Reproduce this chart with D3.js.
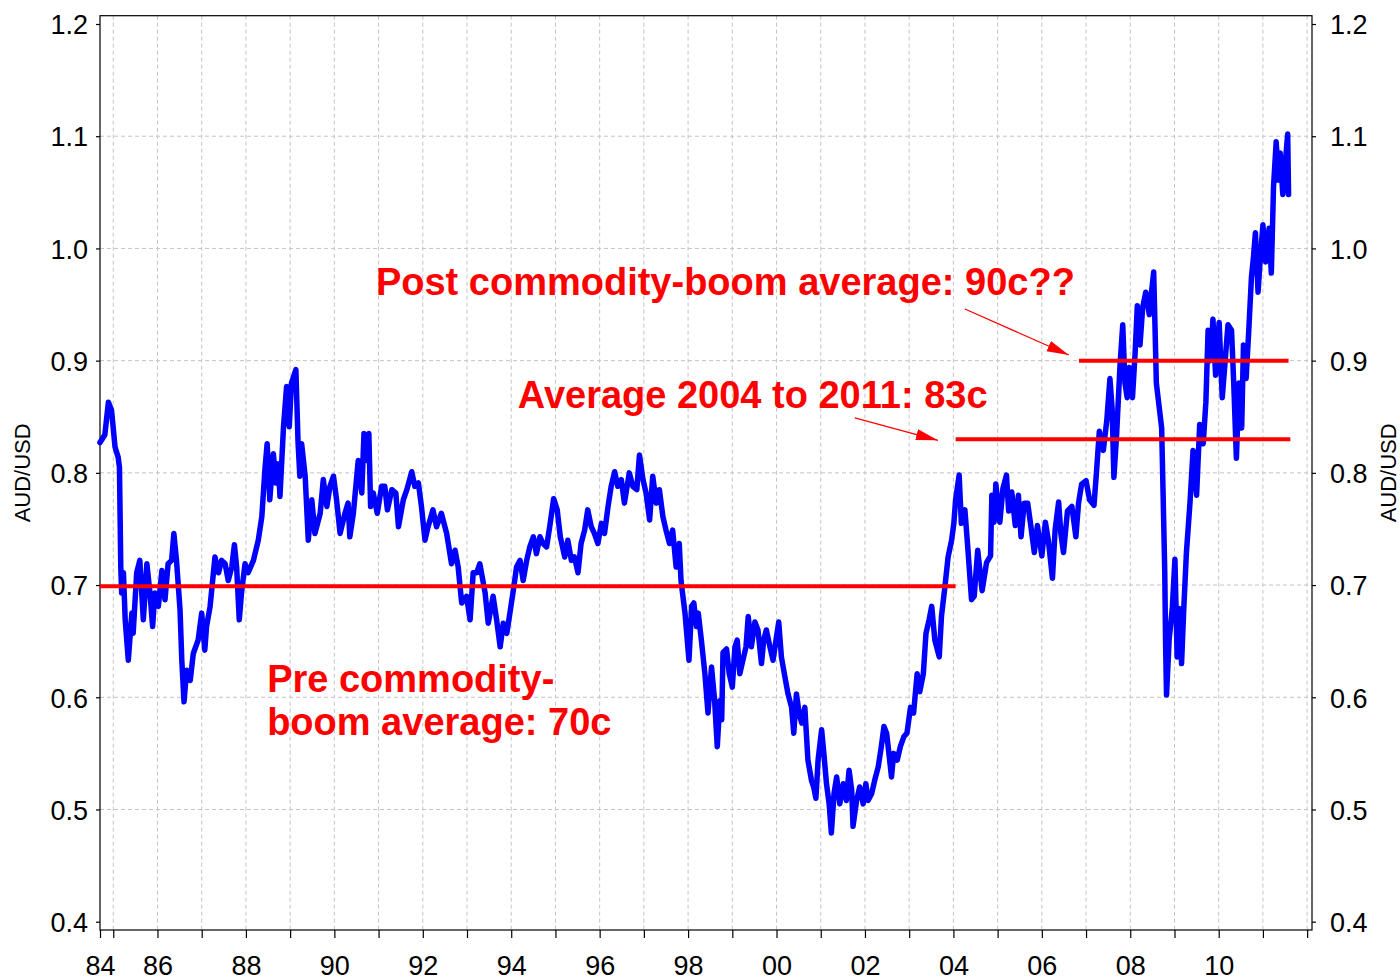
<!DOCTYPE html>
<html>
<head>
<meta charset="utf-8">
<script src="https://cdn.jsdelivr.net/npm/d3@7"></script>
<style>
  body { margin: 0; background: #fff; }
  text { font-family: "Liberation Sans", Arial, sans-serif; }
</style>
</head>
<body>
<div id="chart-area"></div>
<script>
// AUD/USD, decimal year vs rate
const audYears = [
  1984.70, 1984.81, 1984.89, 1984.96, 1985.04, 1985.11, 1985.14, 1985.17, 1985.19, 1985.23,
  1985.27, 1985.34, 1985.42, 1985.45, 1985.53, 1985.60, 1985.68, 1985.76, 1985.83, 1985.89,
  1985.94, 1986.02, 1986.10, 1986.17, 1986.24, 1986.32, 1986.37, 1986.43, 1986.51, 1986.55,
  1986.60, 1986.66, 1986.74, 1986.81, 1986.92, 1987.00, 1987.07, 1987.11, 1987.19, 1987.30,
  1987.38, 1987.45, 1987.53, 1987.60, 1987.68, 1987.74, 1987.79, 1987.85, 1987.90, 1987.98,
  1988.05, 1988.17, 1988.28, 1988.36, 1988.43, 1988.48, 1988.54, 1988.62, 1988.68, 1988.73,
  1988.77, 1988.85, 1988.92, 1988.98, 1989.03, 1989.13, 1989.18, 1989.22, 1989.26, 1989.34,
  1989.41, 1989.49, 1989.56, 1989.68, 1989.75, 1989.83, 1989.90, 1989.98, 1990.05, 1990.13,
  1990.24, 1990.31, 1990.35, 1990.43, 1990.54, 1990.62, 1990.67, 1990.73, 1990.78, 1990.82,
  1990.88, 1990.97, 1991.07, 1991.14, 1991.20, 1991.30, 1991.39, 1991.45, 1991.56, 1991.64,
  1991.75, 1991.82, 1991.90, 1991.97, 1992.05, 1992.12, 1992.23, 1992.31, 1992.42, 1992.54,
  1992.65, 1992.73, 1992.80, 1992.88, 1992.99, 1993.07, 1993.14, 1993.22, 1993.29, 1993.41,
  1993.48, 1993.59, 1993.67, 1993.75, 1993.82, 1993.90, 1993.97, 1994.05, 1994.12, 1994.20,
  1994.27, 1994.35, 1994.42, 1994.50, 1994.57, 1994.65, 1994.72, 1994.80, 1994.87, 1994.96,
  1995.04, 1995.11, 1995.21, 1995.28, 1995.36, 1995.43, 1995.51, 1995.58, 1995.66, 1995.73,
  1995.81, 1995.88, 1995.96, 1996.04, 1996.11, 1996.19, 1996.26, 1996.34, 1996.41, 1996.49,
  1996.56, 1996.67, 1996.75, 1996.84, 1996.90, 1996.98, 1997.05, 1997.13, 1997.20, 1997.28,
  1997.35, 1997.43, 1997.50, 1997.58, 1997.65, 1997.73, 1997.80, 1997.84, 1997.93, 1998.02,
  1998.08, 1998.13, 1998.19, 1998.23, 1998.30, 1998.38, 1998.45, 1998.53, 1998.60, 1998.66,
  1998.72, 1998.76, 1998.79, 1998.87, 1998.93, 1999.00, 1999.06, 1999.11, 1999.17, 1999.24,
  1999.31, 1999.36, 1999.43, 1999.51, 1999.58, 1999.66, 1999.71, 1999.77, 1999.85, 1999.92,
  2000.00, 2000.05, 2000.11, 2000.19, 2000.26, 2000.34, 2000.39, 2000.45, 2000.51, 2000.57,
  2000.64, 2000.71, 2000.79, 2000.84, 2000.89, 2000.94, 2001.02, 2001.07, 2001.13, 2001.19,
  2001.24, 2001.30, 2001.36, 2001.43, 2001.51, 2001.58, 2001.64, 2001.70, 2001.73, 2001.81,
  2001.88, 2001.96, 2002.02, 2002.07, 2002.15, 2002.22, 2002.30, 2002.37, 2002.43, 2002.49,
  2002.55, 2002.60, 2002.65, 2002.73, 2002.80, 2002.88, 2002.95, 2003.03, 2003.10, 2003.18,
  2003.24, 2003.32, 2003.38, 2003.45, 2003.51, 2003.58, 2003.68, 2003.73, 2003.81, 2003.88,
  2003.96, 2004.01, 2004.05, 2004.13, 2004.18, 2004.26, 2004.33, 2004.41, 2004.47, 2004.55,
  2004.65, 2004.75, 2004.84, 2004.87, 2004.92, 2004.96, 2005.05, 2005.12, 2005.20, 2005.25,
  2005.32, 2005.40, 2005.47, 2005.53, 2005.60, 2005.68, 2005.75, 2005.83, 2005.90, 2006.00,
  2006.08, 2006.15, 2006.24, 2006.30, 2006.38, 2006.43, 2006.49, 2006.58, 2006.68, 2006.77,
  2006.83, 2006.90, 2007.00, 2007.08, 2007.18, 2007.24, 2007.30, 2007.39, 2007.47, 2007.54,
  2007.59, 2007.63, 2007.69, 2007.77, 2007.83, 2007.88, 2007.93, 2007.98, 2008.05, 2008.11,
  2008.16, 2008.22, 2008.28, 2008.35, 2008.43, 2008.48, 2008.53, 2008.59, 2008.65, 2008.71,
  2008.74, 2008.78, 2008.80, 2008.82, 2008.88, 2008.95, 2009.01, 2009.06, 2009.12, 2009.16,
  2009.21, 2009.27, 2009.35, 2009.42, 2009.50, 2009.57, 2009.65, 2009.71, 2009.76, 2009.81,
  2009.87, 2009.93, 2010.01, 2010.08, 2010.14, 2010.21, 2010.29, 2010.34, 2010.40, 2010.46,
  2010.52, 2010.56, 2010.62, 2010.68, 2010.74, 2010.79, 2010.83, 2010.89, 2010.94, 2011.00,
  2011.06, 2011.14, 2011.19, 2011.24, 2011.30, 2011.35, 2011.39, 2011.45, 2011.51, 2011.56,
  2011.58
];
const audValues = [
  0.827, 0.834, 0.863, 0.856, 0.823, 0.814, 0.805, 0.716, 0.693, 0.711,
  0.669, 0.633, 0.675, 0.657, 0.711, 0.722, 0.669, 0.719, 0.693, 0.663,
  0.693, 0.681, 0.713, 0.687, 0.719, 0.722, 0.746, 0.722, 0.678, 0.633,
  0.596, 0.624, 0.615, 0.639, 0.651, 0.675, 0.642, 0.663, 0.681, 0.725,
  0.711, 0.722, 0.719, 0.704, 0.716, 0.736, 0.716, 0.669, 0.693, 0.719,
  0.711, 0.722, 0.740, 0.761, 0.803, 0.826, 0.776, 0.817, 0.791, 0.808,
  0.779, 0.841, 0.877, 0.841, 0.880, 0.892, 0.826, 0.797, 0.826, 0.797,
  0.740, 0.776, 0.746, 0.764, 0.794, 0.770, 0.788, 0.797, 0.776, 0.746,
  0.764, 0.773, 0.743, 0.764, 0.811, 0.782, 0.835, 0.811, 0.835, 0.770,
  0.782, 0.764, 0.788, 0.788, 0.767, 0.785, 0.782, 0.752, 0.776, 0.785,
  0.801, 0.788, 0.791, 0.770, 0.740, 0.752, 0.767, 0.752, 0.764, 0.746,
  0.719, 0.731, 0.716, 0.684, 0.690, 0.669, 0.711, 0.711, 0.719, 0.693,
  0.666, 0.690, 0.669, 0.645, 0.666, 0.657, 0.675, 0.696, 0.716, 0.722,
  0.704, 0.722, 0.734, 0.743, 0.728, 0.743, 0.737, 0.734, 0.752, 0.777,
  0.767, 0.743, 0.725, 0.740, 0.722, 0.725, 0.711, 0.737, 0.749, 0.767,
  0.752, 0.746, 0.737, 0.755, 0.746, 0.770, 0.788, 0.801, 0.788, 0.794,
  0.773, 0.800, 0.788, 0.785, 0.816, 0.794, 0.782, 0.758, 0.797, 0.773,
  0.785, 0.761, 0.749, 0.737, 0.749, 0.716, 0.737, 0.704, 0.675, 0.633,
  0.681, 0.684, 0.663, 0.675, 0.651, 0.621, 0.586, 0.627, 0.597, 0.556,
  0.597, 0.580, 0.640, 0.643, 0.621, 0.609, 0.645, 0.651, 0.621, 0.633,
  0.645, 0.672, 0.645, 0.667, 0.660, 0.630, 0.651, 0.660, 0.645, 0.633,
  0.654, 0.667, 0.636, 0.618, 0.603, 0.591, 0.568, 0.603, 0.586, 0.577,
  0.591, 0.544, 0.526, 0.520, 0.510, 0.544, 0.571, 0.550, 0.523, 0.505,
  0.479, 0.514, 0.529, 0.505, 0.523, 0.508, 0.535, 0.517, 0.485, 0.508,
  0.520, 0.505, 0.523, 0.508, 0.514, 0.526, 0.538, 0.556, 0.574, 0.568,
  0.547, 0.529, 0.550, 0.544, 0.556, 0.565, 0.568, 0.591, 0.586, 0.621,
  0.605, 0.621, 0.657, 0.669, 0.681, 0.651, 0.636, 0.672, 0.699, 0.725,
  0.740, 0.755, 0.776, 0.798, 0.755, 0.767, 0.731, 0.687, 0.690, 0.731,
  0.695, 0.720, 0.726, 0.780, 0.756, 0.790, 0.756, 0.786, 0.798, 0.766,
  0.783, 0.753, 0.780, 0.743, 0.773, 0.773, 0.753, 0.729, 0.753, 0.726,
  0.756, 0.739, 0.706, 0.749, 0.774, 0.746, 0.729, 0.766, 0.770, 0.743,
  0.773, 0.790, 0.793, 0.776, 0.771, 0.803, 0.837, 0.820, 0.847, 0.884,
  0.857, 0.796, 0.833, 0.897, 0.932, 0.880, 0.867, 0.894, 0.867, 0.907,
  0.949, 0.914, 0.947, 0.961, 0.941, 0.961, 0.979, 0.880, 0.860, 0.840,
  0.786, 0.712, 0.645, 0.602, 0.652, 0.679, 0.723, 0.636, 0.679, 0.630,
  0.679, 0.729, 0.773, 0.820, 0.780, 0.843, 0.826, 0.863, 0.927, 0.900,
  0.937, 0.887, 0.934, 0.867, 0.897, 0.932, 0.927, 0.880, 0.813, 0.880,
  0.840, 0.914, 0.884, 0.927, 0.974, 0.994, 1.014, 0.961, 0.991, 1.021,
  0.988, 1.018, 0.978, 1.055, 1.095, 1.061, 1.085, 1.048, 1.078, 1.102,
  1.048
];

// average lines: [from, to, level]
const averageLines = [
  [1984.70, 2004.05, 0.699],
  [2004.05, 2011.62, 0.83],
  [2006.84, 2011.58, 0.90]
];

const yTicks = [0.4, 0.5, 0.6, 0.7, 0.8, 0.9, 1.0, 1.1, 1.2];
const yGrid = [0.5, 0.6, 0.7, 0.8, 0.9, 1.0, 1.1];
const xStart = 1984.70;
const xEnd = 2012.11;
const xTickYears = d3.range(1985, 2013);
const xLabelYears = [1986, 1988, 1990, 1992, 1994, 1996, 1998, 2000, 2002, 2004, 2006, 2008, 2010];

// annotations in data units: [year, value, text]
const notes = [
  [1990.94, 0.9585, 'Post commodity-boom average: 90c??'],
  [1994.15, 0.858, 'Average 2004 to 2011: 83c'],
  [1988.48, 0.605, 'Pre commodity-'],
  [1988.48, 0.566, 'boom average: 70c']
];
// arrows: [x1, y1, x2, y2] in data units
const arrows = [
  [2004.26, 0.946, 2006.61, 0.905],
  [2001.77, 0.849, 2003.65, 0.829]
];

const chartSize = { width: 1400, height: 980 };
const plot = { left: 100, right: 1312, top: 15.7, bottom: 930 };

const main = () => {
  const svg = d3.select('#chart-area').append('svg')
    .attr('width', chartSize.width)
    .attr('height', chartSize.height);

  const x = d3.scaleLinear().domain([xStart, xEnd]).range([plot.left, plot.right]);
  const y = d3.scaleLinear().domain([0.3926, 1.2074]).range([plot.bottom, plot.top]);

  svg.append('defs').append('marker')
    .attr('id', 'arrowhead')
    .attr('markerUnits', 'userSpaceOnUse')
    .attr('markerWidth', 24).attr('markerHeight', 12)
    .attr('refX', 22).attr('refY', 5.5)
    .attr('orient', 'auto')
    .append('path')
    .attr('d', 'M0,0 L22,5.5 L0,11 Z')
    .attr('fill', '#ff0000');

  // gridlines
  const grid = svg.append('g').attr('class', 'grid')
    .attr('stroke', '#c4c4c4').attr('stroke-width', 1).attr('stroke-dasharray', '4,3');
  grid.selectAll('.gy').data(yGrid).join('line')
    .attr('x1', plot.left).attr('x2', plot.right)
    .attr('y1', d => y(d)).attr('y2', d => y(d));
  grid.selectAll('.gx').data(xTickYears).join('line')
    .attr('x1', d => x(d)).attr('x2', d => x(d))
    .attr('y1', plot.top).attr('y2', plot.bottom);

  // axes
  const fmt = d3.format('.1f');
  const yLeft = svg.append('g').attr('class', 'y axis')
    .attr('transform', `translate(${plot.left},0)`)
    .call(d3.axisLeft(y).tickValues(yTicks).tickFormat(fmt).tickSize(4).tickPadding(8));
  const yRight = svg.append('g').attr('class', 'y axis')
    .attr('transform', `translate(${plot.right},0)`)
    .call(d3.axisRight(y).tickValues(yTicks).tickFormat(fmt).tickSize(4).tickPadding(14));

  const xLabel = (d) => {
    if (d === xStart) return '84';
    return xLabelYears.includes(d) ? String(d % 100).padStart(2, '0') : '';
  };
  const xAxis = svg.append('g').attr('class', 'x axis')
    .attr('transform', `translate(0,${plot.bottom})`)
    .call(d3.axisBottom(x).tickValues([xStart, ...xTickYears]).tickFormat(xLabel).tickSize(8));

  [yLeft, yRight, xAxis].forEach(g => {
    g.select('.domain').remove();
    g.selectAll('line').attr('stroke', '#000').attr('stroke-width', 1.2);
    g.selectAll('text').attr('font-size', 27).attr('fill', '#000')
      .style('font-family', '"Liberation Sans", Arial, sans-serif');
  });
  yLeft.selectAll('text').attr('dy', '0.36em');
  yRight.selectAll('text').attr('dy', '0.36em');
  xAxis.selectAll('text').attr('y', 45).attr('dy', 0);

  svg.append('rect')
    .attr('x', plot.left).attr('y', plot.top)
    .attr('width', plot.right - plot.left).attr('height', plot.bottom - plot.top)
    .attr('fill', 'none').attr('stroke', '#000').attr('stroke-width', 1.2);

  // axis titles
  svg.append('text')
    .attr('transform', `translate(30,${y(0.8)}) rotate(-90)`)
    .attr('text-anchor', 'middle').attr('font-size', 22).text('AUD/USD');
  svg.append('text')
    .attr('transform', `translate(1396,${y(0.8)}) rotate(-90)`)
    .attr('text-anchor', 'middle').attr('font-size', 22).text('AUD/USD');

  // series
  const series = audYears.map((t, i) => [t, audValues[i]]);
  svg.append('path')
    .datum(series)
    .attr('fill', 'none')
    .attr('stroke', '#0000ff')
    .attr('stroke-width', 5.5)
    .attr('stroke-linejoin', 'round')
    .attr('stroke-linecap', 'round')
    .attr('d', d3.line().x(d => x(d[0])).y(d => y(d[1])));

  // averages
  svg.selectAll('.avg').data(averageLines).join('line')
    .attr('class', 'avg')
    .attr('x1', d => x(d[0])).attr('x2', d => x(d[1]))
    .attr('y1', d => y(d[2])).attr('y2', d => y(d[2]))
    .attr('stroke', '#ff0000').attr('stroke-width', 4);

  svg.selectAll('.arrow').data(arrows).join('line')
    .attr('class', 'arrow')
    .attr('x1', d => x(d[0])).attr('y1', d => y(d[1]))
    .attr('x2', d => x(d[2])).attr('y2', d => y(d[3]))
    .attr('stroke', '#ff0000').attr('stroke-width', 1.3)
    .attr('marker-end', 'url(#arrowhead)');

  svg.selectAll('.note').data(notes).join('text')
    .attr('class', 'note')
    .attr('x', d => x(d[0])).attr('y', d => y(d[1]))
    .attr('fill', '#ff0000')
    .attr('font-size', 38)
    .attr('font-weight', 'bold')
    .text(d => d[2]);
};

window.onload = main;
</script>
</body>
</html>
